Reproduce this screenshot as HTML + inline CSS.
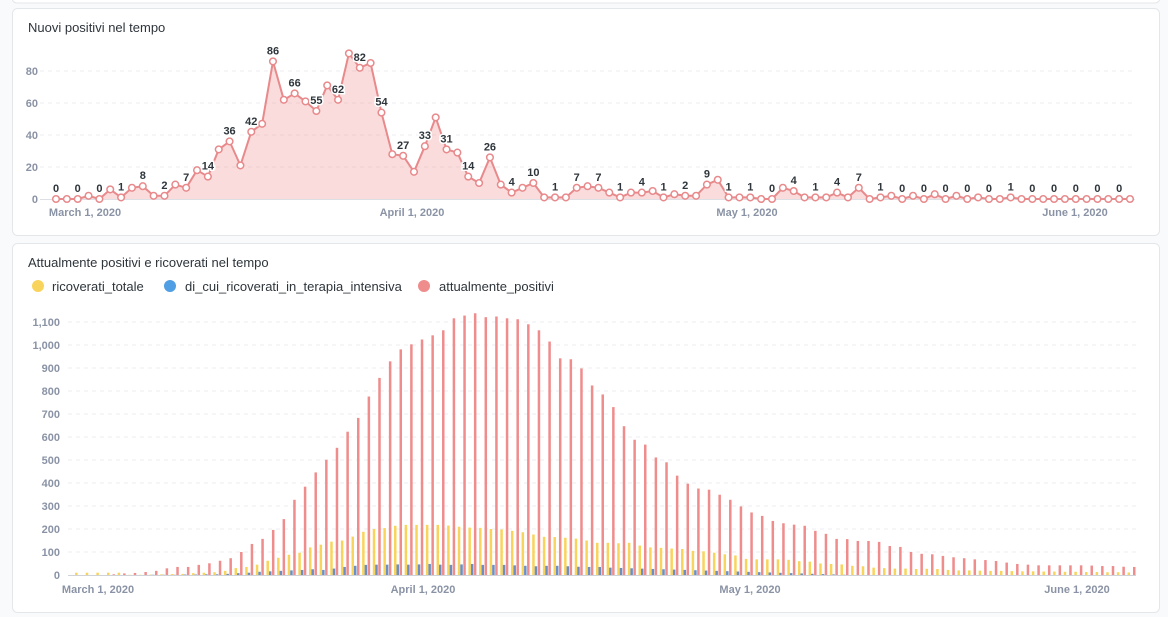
<!DOCTYPE html>
<html><head><meta charset="utf-8">
<style>
html,body{margin:0;padding:0;background:#f9fafb;width:1168px;height:617px;overflow:hidden}
svg{display:block}
text{font-family:"Liberation Sans",sans-serif}
.t{font-size:13px;fill:#2e353b}
.yl{font-size:11px;font-weight:bold;fill:#8a93a5;text-anchor:end}
.xl{font-size:11px;font-weight:bold;fill:#8a93a5;text-anchor:middle}
.pl{font-size:11px;font-weight:bold;fill:#2e353b;text-anchor:middle;stroke:#fff;stroke-width:3px;paint-order:stroke}
.lg{font-size:13px;fill:#2e353b}
</style></head><body>
<svg id="s" width="1168" height="617" viewBox="0 0 1168 617">
<rect x="12" y="-10" width="1148" height="13" rx="5" fill="#fff" stroke="#e4e7ea"/>
<rect x="12.5" y="8.5" width="1147" height="227" rx="5" fill="#fff" stroke="#e4e7ea"/>
<rect x="12.5" y="243.5" width="1147" height="369" rx="5" fill="#fff" stroke="#e4e7ea"/>
<text class="t" x="28" y="32">Nuovi positivi nel tempo</text>
<g id="g1"></g>
<text class="yl" x="38" y="75">80</text>
<text class="yl" x="38" y="107">60</text>
<text class="yl" x="38" y="139">40</text>
<text class="yl" x="38" y="171">20</text>
<text class="yl" x="38" y="203">0</text>
<text class="xl" x="85" y="216">March 1, 2020</text>
<text class="xl" x="412" y="216">April 1, 2020</text>
<text class="xl" x="747" y="216">May 1, 2020</text>
<text class="xl" x="1075" y="216">June 1, 2020</text>
<g id="lab">
<text class="pl">0</text><text class="pl">0</text><text class="pl">0</text><text class="pl">1</text><text class="pl">8</text><text class="pl">2</text><text class="pl">7</text><text class="pl">14</text><text class="pl">36</text><text class="pl">42</text><text class="pl">86</text><text class="pl">66</text><text class="pl">55</text><text class="pl">62</text><text class="pl">82</text><text class="pl">54</text><text class="pl">27</text><text class="pl">33</text><text class="pl">31</text><text class="pl">14</text><text class="pl">26</text><text class="pl">4</text><text class="pl">10</text><text class="pl">1</text><text class="pl">7</text><text class="pl">7</text><text class="pl">1</text><text class="pl">4</text><text class="pl">1</text><text class="pl">2</text><text class="pl">9</text><text class="pl">1</text><text class="pl">1</text><text class="pl">0</text><text class="pl">4</text><text class="pl">1</text><text class="pl">4</text><text class="pl">7</text><text class="pl">1</text><text class="pl">0</text><text class="pl">0</text><text class="pl">0</text><text class="pl">0</text><text class="pl">0</text><text class="pl">1</text><text class="pl">0</text><text class="pl">0</text><text class="pl">0</text><text class="pl">0</text><text class="pl">0</text>
</g>

<text class="t" x="28" y="267">Attualmente positivi e ricoverati nel tempo</text>
<circle cx="38" cy="286" r="6" fill="#f9d45c"/><text class="lg" x="52" y="291">ricoverati_totale</text>
<circle cx="170" cy="286" r="6" fill="#509ee3"/><text class="lg" x="185" y="291">di_cui_ricoverati_in_terapia_intensiva</text>
<circle cx="424" cy="286" r="6" fill="#ef8c8c"/><text class="lg" x="439" y="291">attualmente_positivi</text>
<g id="g2"></g>
<text class="yl" x="60" y="326">1,100</text>
<text class="yl" x="60" y="349">1,000</text>
<text class="yl" x="60" y="372">900</text>
<text class="yl" x="60" y="395">800</text>
<text class="yl" x="60" y="418">700</text>
<text class="yl" x="60" y="441">600</text>
<text class="yl" x="60" y="464">500</text>
<text class="yl" x="60" y="487">400</text>
<text class="yl" x="60" y="510">300</text>
<text class="yl" x="60" y="533">200</text>
<text class="yl" x="60" y="556">100</text>
<text class="yl" x="60" y="579">0</text>
<text class="xl" x="98" y="593">March 1, 2020</text>
<text class="xl" x="423" y="593">April 1, 2020</text>
<text class="xl" x="750" y="593">May 1, 2020</text>
<text class="xl" x="1077" y="593">June 1, 2020</text>
</svg>
<script>
var NS="http://www.w3.org/2000/svg";
function el(p,n,a){var e=document.createElementNS(NS,n);for(var k in a)e.setAttribute(k,a[k]);p.appendChild(e);return e;}
// top chart
var g1=document.getElementById('g1');
[20,40,60,80].forEach(function(v){var y=199-v*1.6;el(g1,'line',{x1:40,x2:1135,y1:y,y2:y,stroke:'#eceef1','stroke-dasharray':'4,4'});});
el(g1,'line',{x1:40,x2:1135,y1:199.5,y2:199.5,stroke:'#dcdfe3'});
var v=[0,0,0,2,0,6,1,7,8,2,2,9,7,18,14,31,36,21,42,47,86,62,66,61,55,71,62,91,82,85,54,28,27,17,33,51,31,29,14,10,26,9,4,7,10,1,1,1,
7,8,7,4,1,4,4,5,1,3,2,2,9,12,1,1,1,0,0,7,5,1,1,1,4,1,7,0,1,2,0,2,0,3,0,2,0,1,0,0,1,0,0,0,0,0,0,0,0,0,0,0];
var n=v.length,dx=(1130-56)/(n-1);
function X(i){return 56+i*dx;} function Y(a){return 199-a*1.6;}
var d='M'+X(0)+','+Y(v[0]);for(var i=1;i<n;i++)d+='L'+X(i)+','+Y(v[i]);
el(g1,'path',{d:d+'L'+X(n-1)+',199L'+X(0)+',199Z',fill:'rgba(239,140,140,0.3)'});
el(g1,'path',{d:d,fill:'none',stroke:'#e8898b','stroke-width':2});
for(i=0;i<n;i++)el(g1,'circle',{cx:X(i),cy:Y(v[i]),r:3.3,fill:'#fff',stroke:'#e8898b','stroke-width':1.5});
var labs=document.getElementById('lab').children;
for(i=0;i<labs.length;i++){var j=i*2;if(j>=n)j=n-1;labs[i].setAttribute('x',X(j));labs[i].setAttribute('y',Y(v[j])-7);}
// bottom chart
var g2=document.getElementById('g2');
for(var k=1;k<=11;k++){var y=575-23*k;el(g2,'line',{x1:68,x2:1136,y1:y,y2:y,stroke:'#eceef1','stroke-dasharray':'4,4'});}
el(g2,'line',{x1:68,x2:1136,y1:575.5,y2:575.5,stroke:'#cfd3d8'});
var r=[0,0,0,3,7,9,13,18,29,35,35,44,51,62,73,100,135,157,196,243,327,384,446,501,553,623,683,776,857,929,981,1003,1024,1042,1064,1116,1128,1138,1121,1124,1116,1112,1090,1064,1015,942,938,898,824,785,
730,647,588,567,511,490,432,397,376,371,349,327,298,272,257,235,225,219,214,192,179,157,156,148,148,144,126,122,100,92,90,83,77,73,68,65,61,54,48,45,42,42,42,42,42,41,39,39,36,35];
var yl=[0,0,0,0,0,1,1,2,3,4,5,8,10,12,18,30,35,45,62,75,88,97,120,132,145,150,167,188,200,204,214,218,218,218,218,215,210,206,205,200,198,192,186,176,166,165,162,158,150,140,140,138,140,128,120,118,115,113,105,103,97,90,85,70,68,68,68,66,60,58,50,48,46,40,38,32,30,28,28,26,27,26,22,20,20,19,18,18,17,16,16,15,15,14,14,13,13,12,12,11];
var bl=[0,0,0,0,0,0,0,1,1,1,2,2,3,3,5,8,10,14,16,18,20,22,25,22,28,35,40,44,45,45,46,45,46,48,45,44,46,48,44,44,44,42,40,38,40,40,38,36,35,35,32];
var m=r.length,bx=(1134-81.6)/(m-1);
for(i=0;i<m;i++){var cx=81.6+i*bx;var yy=yl[i]||10,bb=(i<bl.length?bl[i]:Math.max(0,32-(i-50)*1.4));
 if(yy>0)el(g2,'rect',{x:cx-6.5,y:575-yy*0.23,width:2.5,height:yy*0.23,fill:'#f9d45c'});
 if(bb>0)el(g2,'rect',{x:cx-4,y:575-bb*0.23,width:2.5,height:bb*0.23,fill:'#6b8fc4'});
 if(r[i]>0)el(g2,'rect',{x:cx-1,y:575-r[i]*0.23,width:2.5,height:r[i]*0.23,fill:'#ef8c8c'});}
</script>
</body></html>
